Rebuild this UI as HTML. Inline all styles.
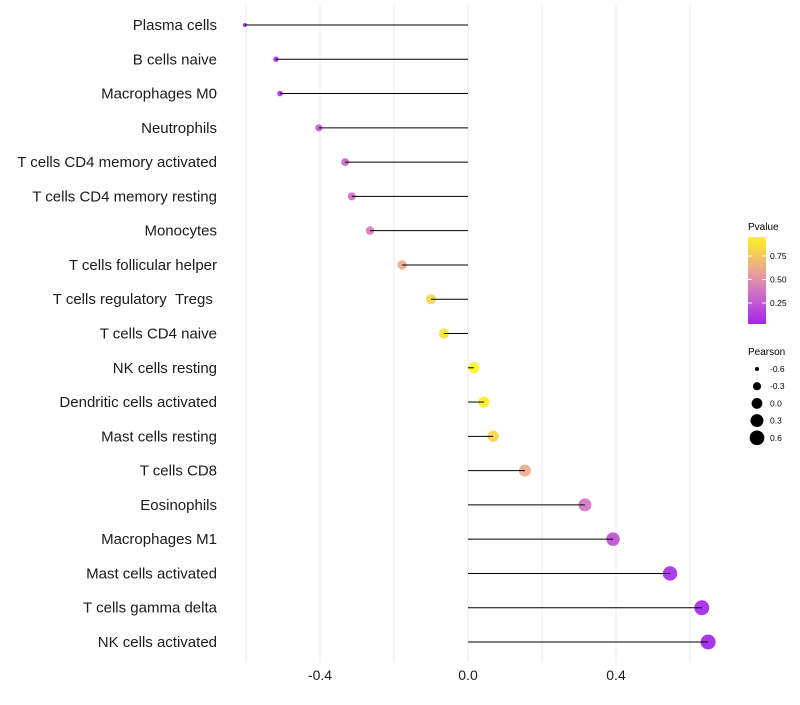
<!DOCTYPE html>
<html><head><meta charset="utf-8"><style>
body{margin:0;background:#fff;}
text{font-family:"Liberation Sans",sans-serif;}
</style></head><body>
<svg id="c" width="800" height="700"></svg>
<script>
const categories=["Plasma cells","B cells naive","Macrophages M0","Neutrophils","T cells CD4 memory activated","T cells CD4 memory resting","Monocytes","T cells follicular helper","T cells regulatory\u00a0\u00a0Tregs\u00a0","T cells CD4 naive","NK cells resting","Dendritic cells activated","Mast cells resting","T cells CD8","Eosinophils","Macrophages M1","Mast cells activated","T cells gamma delta","NK cells activated"];
const pearson=[-0.603,-0.519,-0.508,-0.403,-0.332,-0.314,-0.265,-0.178,-0.1,-0.065,0.016,0.043,0.068,0.154,0.316,0.392,0.546,0.632,0.649];
const pvalue=[0.02,0.06,0.07,0.25,0.32,0.35,0.42,0.62,0.82,0.87,0.97,0.93,0.83,0.62,0.38,0.22,0.06,0.03,0.02];
const xTicks=[-0.4,0.0,0.4];
const gridVals=[-0.6,-0.4,-0.2,0,0.2,0.4,0.6];
const legendP=[0.25,0.5,0.75];
const legendS=[-0.6,-0.3,0.0,0.3,0.6];
const svg=document.getElementById('c');const NS='http://www.w3.org/2000/svg';
function el(t,a,p){const e=document.createElementNS(NS,t);for(const k in a)e.setAttribute(k,a[k]);(p||svg).appendChild(e);return e;}
const X=v=>468+v*370;
const Y=i=>25+i*(617/18);
function col(p){const s=[[160,32,240],[212,120,190],[236,170,140],[255,250,20]];const st=[0,0.4,0.62,1];let k=0;while(k<2&&p>st[k+1])k++;const t=Math.max(0,Math.min(1,(p-st[k])/(st[k+1]-st[k])));const a=s[k],b=s[k+1];return 'rgb('+a.map((c,i)=>Math.round(c+(b[i]-c)*t)).join(',')+')';}
function rad(v){const t=Math.max(0,(v+0.603)/1.252);return Math.sqrt(4+52.25*t);}
gridVals.forEach(v=>{let g=el('line',{x1:X(v),x2:X(v),y1:5,y2:662,stroke:'#ebebeb','stroke-width':1});});
categories.forEach((c,i)=>{
 let t=el('text',{x:217,y:Y(i)+5,'text-anchor':'end','font-size':15,fill:'#1a1a1a'});t.textContent=c;
 
 let d=el('circle',{cx:X(pearson[i]),cy:Y(i),r:rad(pearson[i]),fill:col(pvalue[i]),'fill-opacity':0.92});
 
 let l=el('line',{x1:X(0),x2:X(pearson[i]),y1:Y(i),y2:Y(i),stroke:'#000','stroke-width':1});
 
});
xTicks.forEach(v=>{let t=el('text',{x:X(v),y:680,'text-anchor':'middle','font-size':14,fill:'#1a1a1a'});t.textContent=v.toFixed(1);});
let lt=el('text',{x:748,y:230,'font-size':10});lt.textContent='Pvalue';
const defs=el('defs',{});const gr=el('linearGradient',{id:'g',x1:0,y1:1,x2:0,y2:0},defs);
[0,0.1,0.2,0.3,0.4,0.5,0.6,0.7,0.8,0.9,1].forEach(p=>el('stop',{offset:p,'stop-color':col(0.03+p*0.93)},gr));
let cb=el('rect',{x:748,y:237,width:18,height:87,fill:'url(#g)'});
const PY=p=>326.5-p*94;
legendP.forEach(p=>{el('line',{x1:748,x2:752,y1:PY(p),y2:PY(p),stroke:'#fff'});el('line',{x1:762,x2:766,y1:PY(p),y2:PY(p),stroke:'#fff'});let t=el('text',{x:770,y:PY(p)+3,'font-size':8.5});t.textContent=p.toFixed(2);});
let st=el('text',{x:748,y:355,'font-size':10});st.textContent='Pearson';
legendS.forEach((v,i)=>{const y=369+i*17.2;let c=el('circle',{cx:757,cy:y,r:rad(v),fill:'#000'});let t=el('text',{x:770,y:y+3,'font-size':8.5});t.textContent=v.toFixed(1);});
</script>
</body></html>
